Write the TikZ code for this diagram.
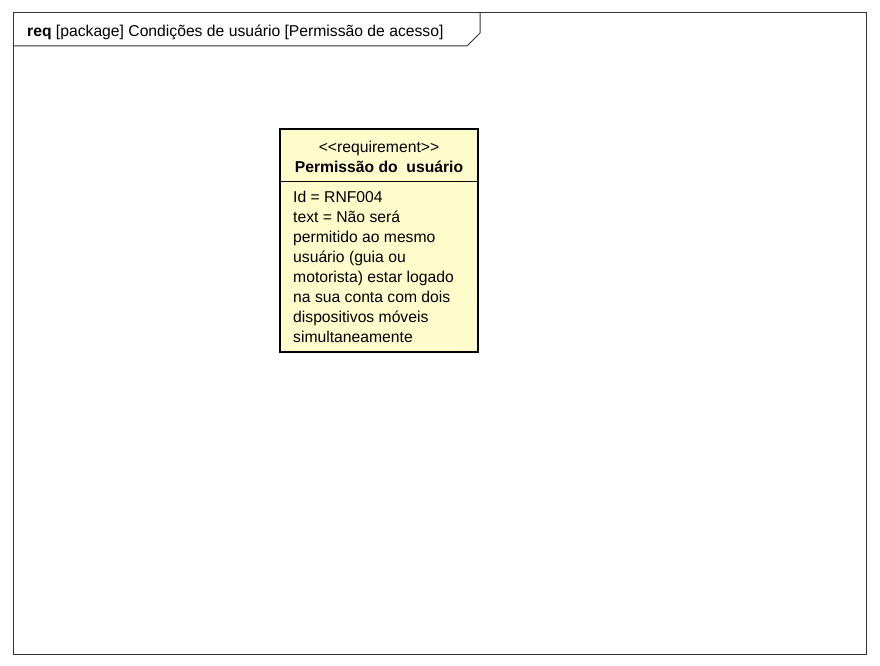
\documentclass[tikz,border=0pt]{standalone}
\usepackage{fontspec}
\setmainfont{Liberation Sans}
\begin{document}
\begin{tikzpicture}[x=1pt,y=-1pt,
  frameline/.style={draw=black!80,line width=1pt},
  reqbox/.style={draw=black,line width=2.6pt,fill=yellow!20!white},
  txt/.style={font=\fontsize{15.7}{20}\selectfont,inner sep=0pt}]
\useasboundingbox[fill=white] (0,0) rectangle (880,666);
\draw[frameline] (13,13) rectangle (866,654);
\draw[frameline] (13,46) -- (467,46) -- (480,33) -- (480,13);
\node[txt,anchor=base west] (title) at (27,37) {\textbf{req} [package] Condições de usuário [Permissão de acesso]};
\draw[reqbox] (280,129) rectangle (478,352);
\draw[line width=1pt] (280,181) -- (478,181);
\node[txt,anchor=base] (stereo) at (379,152) {<\kern0pt<requirement>\kern0pt>};
\node[txt,anchor=base] (name) at (379,172) {\textbf{Permissão do\ \ usuário}};
\node[txt,anchor=north west,align=left] (body) at (293,191) {Id = RNF004\\text = Não será\\permitido ao mesmo\\usuário (guia ou\\motorista) estar logado\\na sua conta com dois\\dispositivos móveis\\simultaneamente};
\end{tikzpicture}
\end{document}
